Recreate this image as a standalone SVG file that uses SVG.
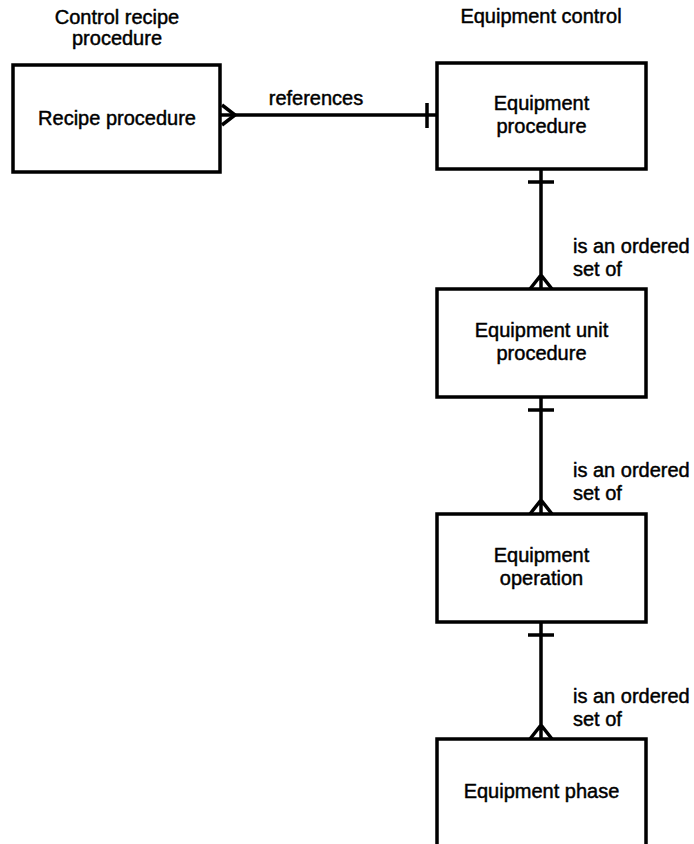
<svg xmlns="http://www.w3.org/2000/svg" width="694" height="844" viewBox="0 0 694 844">
<style>
text{font-family:"Liberation Sans",Arial,sans-serif;font-size:20px;fill:#000;stroke:#000;stroke-width:0.45}
.c{text-anchor:middle}
.box{fill:#fff;stroke:#000;stroke-width:3.5}
.ln{fill:none;stroke:#000;stroke-width:3.5}
</style>
<rect width="694" height="844" fill="#fff"/>
<g id="headers">
<text class="c" x="117" y="24">Control recipe</text>
<text class="c" x="117" y="45">procedure</text>
<text class="c" x="541" y="23">Equipment control</text>
</g>
<g id="connectors">
<path class="ln" d="M220,115 H437"/>
<path class="ln" d="M222,105 L235,115 L222,125"/>
<path class="ln" d="M427,103 V128"/>
<text x="316" y="105" class="c">references</text>
<path class="ln" d="M541,169 V289 M528,182 H554 M530,289 L541,275 L552,289"/>
<text x="573" y="253">is an ordered</text>
<text x="573" y="276">set of</text>
<path class="ln" d="M541,397 V514 M528,410 H554 M530,514 L541,500 L552,514"/>
<text x="573" y="477">is an ordered</text>
<text x="573" y="500">set of</text>
<path class="ln" d="M541,622 V739 M528,635 H554 M530,739 L541,725 L552,739"/>
<text x="573" y="703">is an ordered</text>
<text x="573" y="726">set of</text>
</g>
<g id="recipe-procedure">
<rect class="box" x="13" y="65" width="207" height="107"/>
<text class="c" x="117" y="125">Recipe procedure</text>
</g>
<g id="equipment-procedure">
<rect class="box" x="437" y="63" width="209" height="106"/>
<text class="c" x="541.5" y="110">Equipment</text>
<text class="c" x="541.5" y="133">procedure</text>
</g>
<g id="equipment-unit-procedure">
<rect class="box" x="437" y="289" width="209" height="108"/>
<text class="c" x="541.5" y="337">Equipment unit</text>
<text class="c" x="541.5" y="360">procedure</text>
</g>
<g id="equipment-operation">
<rect class="box" x="437" y="514" width="209" height="108"/>
<text class="c" x="541.5" y="562">Equipment</text>
<text class="c" x="541.5" y="585">operation</text>
</g>
<g id="equipment-phase">
<rect class="box" x="437" y="739" width="209" height="140"/>
<text class="c" x="541.5" y="798">Equipment phase</text>
</g>
</svg>
